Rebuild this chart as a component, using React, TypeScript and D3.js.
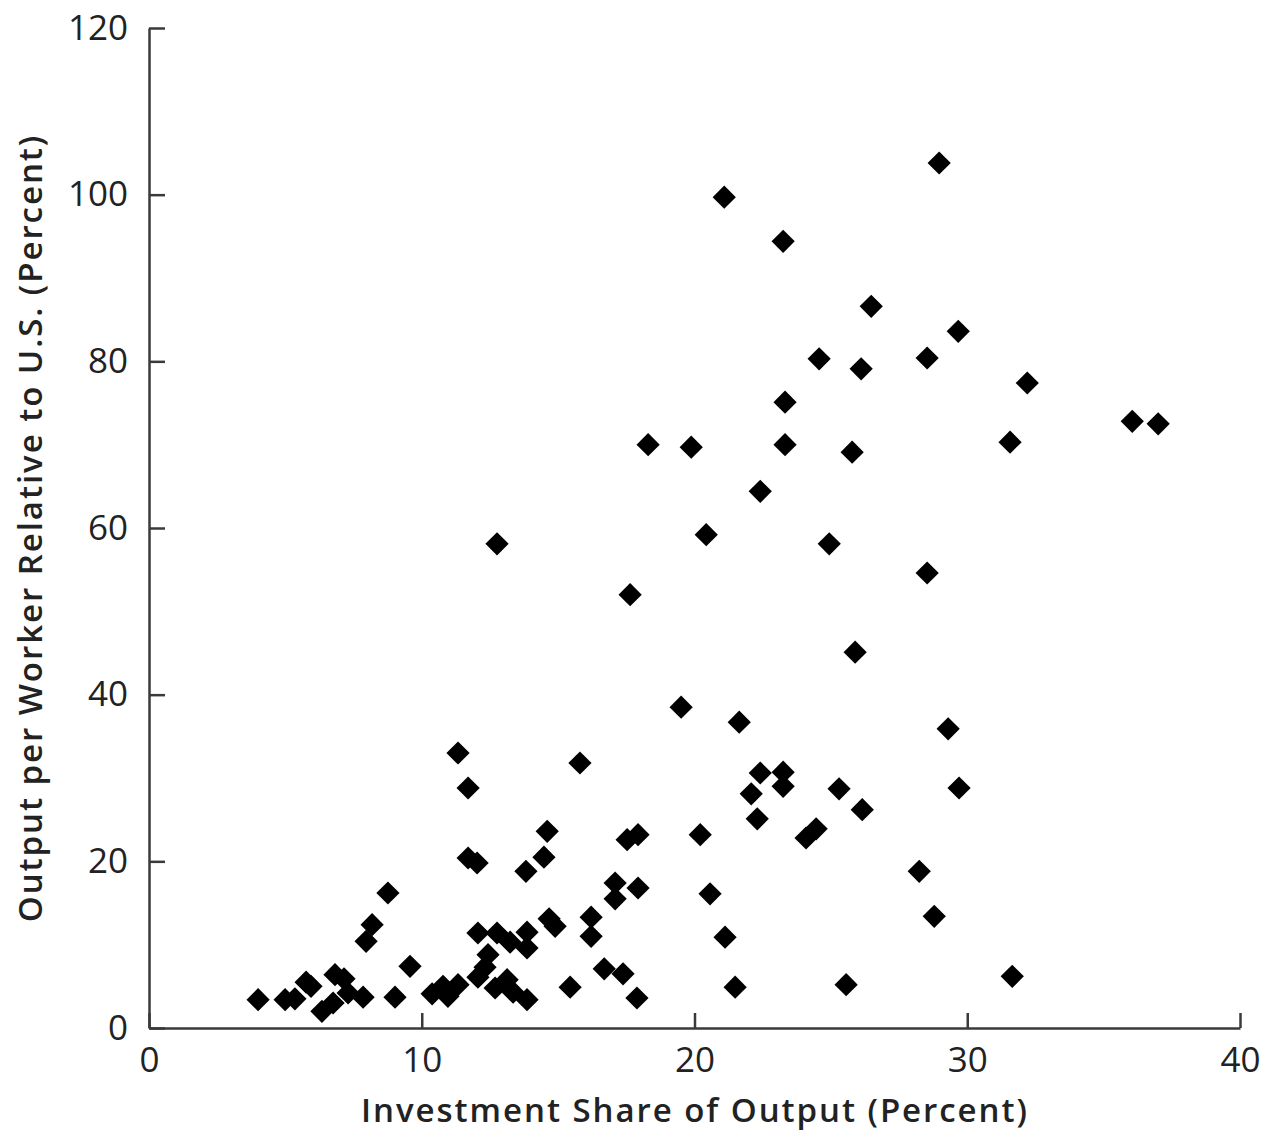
import React, { useEffect, useRef } from "react";
import * as d3 from "d3";

// investment share of output (percent)
const investShare = [
  28.97, 21.09, 23.25, 26.48, 29.67, 24.57, 28.53, 26.11, 32.2, 23.32,
  36.05, 37.0, 31.57, 18.3, 19.88, 23.32, 25.78, 22.41, 20.43, 12.76,
  24.94, 28.53, 17.64, 25.89, 19.51, 21.64, 29.3, 11.33, 15.8, 22.41,
  23.25, 23.25, 22.08, 25.3, 29.7, 11.7, 14.6, 17.53, 17.93, 20.21,
  22.3, 24.09, 24.46, 26.15, 11.7, 12.03, 14.48, 13.82, 8.76, 20.57,
  28.24, 17.09, 17.09, 17.93, 8.18, 7.96, 9.57, 14.67, 14.89, 16.21,
  16.21, 12.06, 12.76, 13.24, 13.86, 13.86, 12.43, 12.32, 12.06, 16.69,
  17.38, 21.12, 21.49, 28.79, 25.56, 31.65, 17.89, 15.44, 4.0, 4.99,
  5.35, 5.76, 5.94, 6.82, 7.15, 7.3, 6.75, 6.34, 7.85, 9.02,
  10.38, 10.78, 10.96, 11.33, 12.69, 13.13, 13.35, 13.86,
];

// output per worker relative to U.S. (percent)
const outputPerWorker = [
  103.8, 99.7, 94.4, 86.6, 83.6, 80.3, 80.4, 79.1, 77.4, 75.1,
  72.8, 72.5, 70.3, 70.0, 69.7, 70.0, 69.1, 64.4, 59.2, 58.1,
  58.1, 54.6, 52.0, 45.1, 38.5, 36.7, 35.9, 33.0, 31.8, 30.6,
  30.7, 29.0, 28.1, 28.7, 28.8, 28.8, 23.6, 22.6, 23.2, 23.2,
  25.1, 22.8, 23.9, 26.2, 20.4, 19.8, 20.5, 18.8, 16.2, 16.1,
  18.8, 17.4, 15.5, 16.8, 12.4, 10.4, 7.4, 13.1, 12.2, 13.3,
  11.0, 11.4, 11.4, 10.3, 11.5, 9.6, 8.8, 7.3, 6.1, 7.1,
  6.5, 10.9, 4.9, 13.4, 5.2, 6.2, 3.6, 4.9, 3.4, 3.4,
  3.5, 5.5, 5.0, 6.4, 5.9, 4.2, 3.0, 2.0, 3.7, 3.7,
  4.1, 5.0, 3.8, 5.2, 4.8, 5.8, 4.3, 3.4,
];

const xTicks = [0, 10, 20, 30, 40];
const yTicks = [0, 20, 40, 60, 80, 100, 120];

const App = () => {
  const svgRef = useRef<SVGSVGElement>(null);

  useEffect(() => {
    const w = 1277;
    const h = 1132;
    const svg = d3.select(svgRef.current).attr("width", w).attr("height", h);
    svg.selectAll("*").remove();

    const x = d3.scaleLinear().domain([0, 40]).range([149, 1240]);
    const y = d3.scaleLinear().domain([0, 120]).range([1028, 28]);
    const font = "'Open Sans', sans-serif";
    const axisColor = "#3a3a3a";

    const xAxis = d3
      .axisBottom(x)
      .tickValues(xTicks)
      .tickSizeInner(-15)
      .tickSizeOuter(0)
      .tickPadding(19);
    const yAxis = d3
      .axisLeft(y)
      .tickValues(yTicks)
      .tickSizeInner(-16)
      .tickSizeOuter(0)
      .tickPadding(21);

    const gx = svg.append("g").attr("transform", "translate(0,1028)").call(xAxis);
    const gy = svg.append("g").attr("transform", "translate(149,0)").call(yAxis);

    [gx, gy].forEach((g) => {
      g.select(".domain").attr("stroke", axisColor).attr("stroke-width", 2.5);
      g.selectAll(".tick line").attr("stroke", axisColor).attr("stroke-width", 2.5);
      g.selectAll(".tick text")
        .attr("fill", "#222")
        .style("font-family", font)
        .style("font-size", "35px");
    });

    // diamond markers
    const diamond = d3.symbol().type(d3.symbolSquare).size(270);
    svg
      .append("g")
      .selectAll("path")
      .data(investShare.map((v, i) => [v, outputPerWorker[i]]))
      .join("path")
      .attr("d", diamond)
      .attr("fill", "#000")
      .attr("transform", (d) => `translate(${x(d[0])},${y(d[1])}) rotate(45)`);

    svg
      .append("text")
      .attr("x", 695)
      .attr("y", 1122)
      .attr("text-anchor", "middle")
      .attr("fill", "#222")
      .style("font-family", font)
      .style("font-weight", 600)
      .style("font-size", "33px")
      .style("letter-spacing", "1.95px")
      .text("Investment Share of Output (Percent)");

    svg
      .append("text")
      .attr("transform", "translate(42,528) rotate(-90)")
      .attr("text-anchor", "middle")
      .attr("fill", "#222")
      .style("font-family", font)
      .style("font-weight", 600)
      .style("font-size", "33px")
      .style("letter-spacing", "1.95px")
      .text("Output per Worker Relative to U.S. (Percent)");
  }, []);

  return (
    <div style={{ position: "absolute", left: 0, top: 0, background: "#fff" }}>
      <svg ref={svgRef}></svg>
    </div>
  );
};

export default App;
